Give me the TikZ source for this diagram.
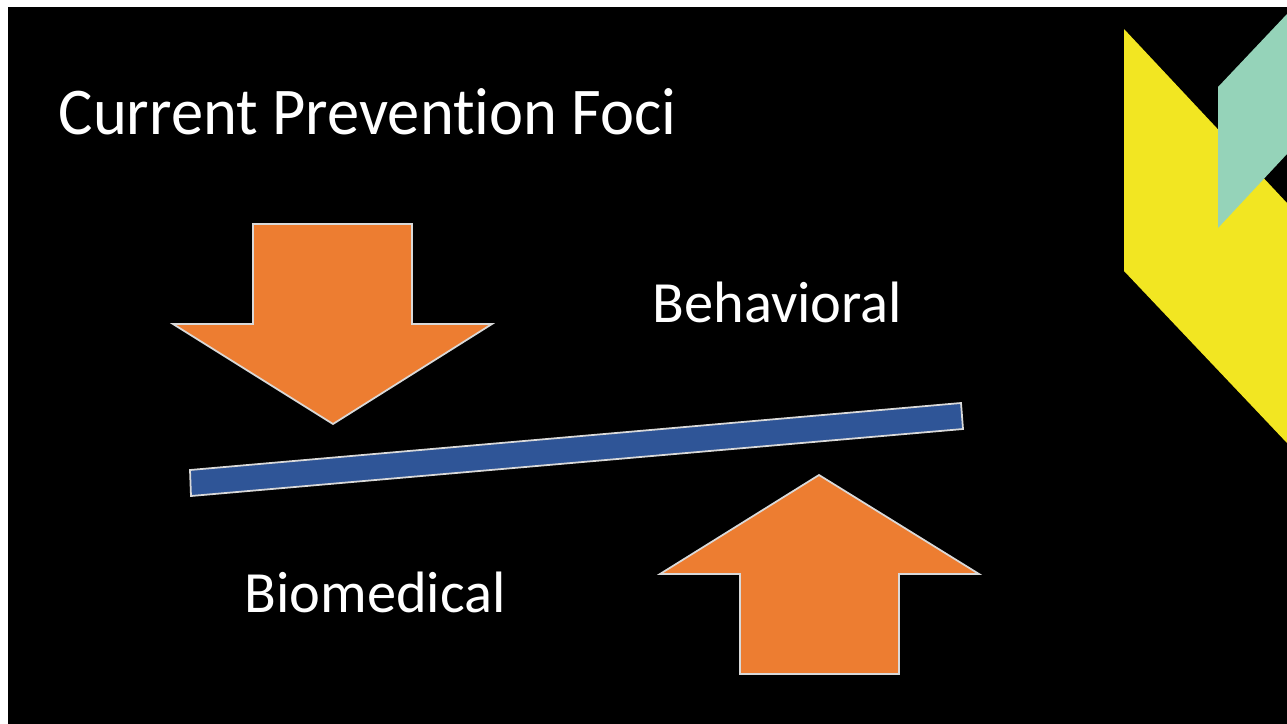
\documentclass[tikz,border=0pt]{standalone}
\usepackage{fontspec}
\setmainfont[Ligatures=CommonOff]{Carlito}

\definecolor{arroworange}{HTML}{ED7D31}
\definecolor{barblue}{HTML}{2F5597}
\definecolor{accyellow}{HTML}{F2E622}
\definecolor{accteal}{HTML}{95D3B9}

\tikzset{
  arrowshape/.style={fill=arroworange, draw=white!85!black, line width=0.5pt},
  slidetext/.style={text=white, inner sep=0pt, anchor=base west}
}

\begin{document}
\begin{tikzpicture}[x=0.01cm,y=-0.01cm]
  % page and slide
  \path[fill=white] (0,0) rectangle (1287,724);
  \path[fill=black] (8,7) rectangle (1287,724);

  % corner accents
  \path[fill=accyellow] (1124,29) -- (1287,203) -- (1287,443) -- (1124,271) -- cycle;
  \path[fill=accteal] (1287,14) -- (1218,87) -- (1218,228) -- (1287,154) -- cycle;

  \node[slidetext,xscale=0.965,font=\fontsize{19pt}{22pt}\selectfont] (title) at (58,134) {Current Prevention Foci};

  % the tilted bar
  \coordinate (BL) at (191,496);
  \coordinate (TL) at (190,470);
  \coordinate (TR) at (961,403);
  \coordinate (BR) at (963,429);
  \draw[fill=barblue,draw=white!85!black,line width=0.5pt] (TL) -- (TR) -- (BR) -- (BL) -- cycle;

  % arrow pressing down
  \draw[arrowshape] (253,224) -- (412,224) -- (412,324) -- (492,324) -- (333,424)
    -- (173,324) -- (253,324) -- cycle;

  % arrow pushing up
  \draw[arrowshape] (819,475) -- (979,574) -- (899,574) -- (899,674) -- (740,674)
    -- (740,574) -- (660,574) -- cycle;

  \node[slidetext,font=\fontsize{16.6pt}{20pt}\selectfont] (behav) at (652,322) {Behavioral};
  \node[slidetext,font=\fontsize{16.6pt}{20pt}\selectfont] (biomed) at (244,612) {Biomedical};
\end{tikzpicture}
\end{document}
